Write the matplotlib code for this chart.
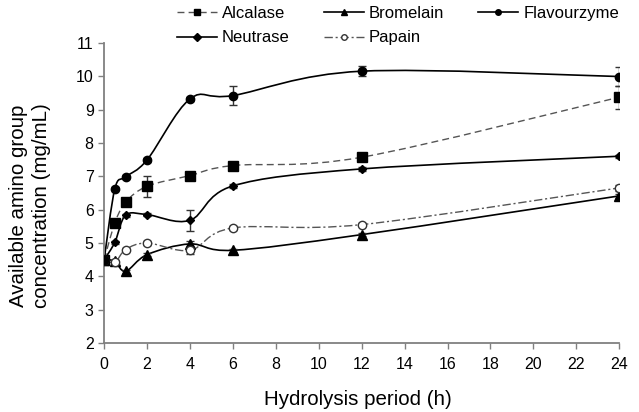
"""Available amino group concentration over hydrolysis time for five enzymes."""

import numpy as np
import matplotlib
matplotlib.use("Agg")
import matplotlib.pyplot as plt
from matplotlib.path import Path
from matplotlib.patches import PathPatch
from matplotlib.lines import Line2D

plt.rcParams["font.family"] = ["Liberation Sans", "DejaVu Sans"]

hours = [0, 0.5, 1, 2, 4, 6, 12, 24]

alcalase = [4.5, 5.6, 6.22, 6.7, 7.02, 7.32, 7.57, 9.37]
alcalase_err = [0.05, 0.05, 0.05, 0.32, 0.05, 0.05, 0.05, 0.35]

bromelain = [4.5, 4.45, 4.15, 4.65, 4.97, 4.78, 5.25, 6.41]
bromelain_err = [0.05, 0.05, 0.05, 0.05, 0.08, 0.05, 0.05, 0.05]

flavourzyme = [4.5, 6.63, 6.98, 7.49, 9.32, 9.42, 10.15, 9.99]
flavourzyme_err = [0.05, 0.05, 0.05, 0.05, 0.05, 0.28, 0.15, 0.28]

neutrase = [4.5, 5.02, 5.83, 5.85, 5.68, 6.71, 7.22, 7.6]
neutrase_err = [0.05, 0.05, 0.05, 0.05, 0.32, 0.05, 0.05, 0.05]

papain = [4.5, 4.42, 4.8, 5.0, 4.78, 5.45, 5.55, 6.65]
papain_err = [0.05, 0.05, 0.05, 0.05, 0.1, 0.05, 0.05, 0.1]


def smooth_path(x, y, tension=1 / 6):
    """Catmull-Rom style bezier through the points, like a spreadsheet 'smoothed line'."""
    x = np.asarray(x, float)
    y = np.asarray(y, float)
    verts = [(x[0], y[0])]
    codes = [Path.MOVETO]
    n = len(x)
    for i in range(n - 1):
        p0 = (x[max(i - 1, 0)], y[max(i - 1, 0)])
        p1 = (x[i], y[i])
        p2 = (x[i + 1], y[i + 1])
        p3 = (x[min(i + 2, n - 1)], y[min(i + 2, n - 1)])
        c1 = (p1[0] + (p2[0] - p0[0]) * tension, p1[1] + (p2[1] - p0[1]) * tension)
        c2 = (p2[0] - (p3[0] - p1[0]) * tension, p2[1] - (p3[1] - p1[1]) * tension)
        verts += [c1, c2, p2]
        codes += [Path.CURVE4] * 3
    return Path(verts, codes)


fig = plt.figure(figsize=(6.39, 4.12), dpi=100)
ax = fig.add_axes([0.163, 0.1675, 0.806, 0.7285])

series = [
    ("Alcalase", alcalase, alcalase_err, dict(color="#555555", ls=(0, (5, 3)), lw=1.0),
     dict(marker="s", ms=6.5, mfc="black", mec="black")),
    ("Neutrase", neutrase, neutrase_err, dict(color="black", ls="-", lw=1.2),
     dict(marker="D", ms=4.5, mfc="black", mec="black")),
    ("Bromelain", bromelain, bromelain_err, dict(color="black", ls="-", lw=1.2),
     dict(marker="^", ms=6.5, mfc="black", mec="black")),
    ("Papain", papain, papain_err, dict(color="#555555", ls=(0, (6, 2, 1.5, 2)), lw=1.0),
     dict(marker="o", ms=6, mfc="white", mec="#333333")),
    ("Flavourzyme", flavourzyme, flavourzyme_err, dict(color="black", ls="-", lw=1.2),
     dict(marker="o", ms=6, mfc="black", mec="black")),
]

handles = []
for name, vals, errs, line_kw, mark_kw in series:
    patch = PathPatch(smooth_path(hours, vals), fill=False, edgecolor=line_kw["color"],
                      linestyle=line_kw["ls"], linewidth=line_kw["lw"], zorder=2)
    ax.add_patch(patch)
    ax.errorbar(hours, vals, yerr=errs, ls="none", ecolor="#333333", elinewidth=1,
                capsize=3, capthick=1, zorder=3, **mark_kw)
    handles.append(Line2D([], [], color=line_kw["color"], ls=line_kw["ls"], lw=line_kw["lw"],
                          marker=mark_kw["marker"], ms=4,
                          mfc=mark_kw["mfc"], mec=mark_kw["mec"]))

ax.set_xlim(0, 24)
ax.set_ylim(2, 11)
ax.set_xticks(range(0, 25, 2))
ax.set_yticks(range(2, 12))
for side in ("top", "right"):
    ax.spines[side].set_visible(False)
for side in ("left", "bottom"):
    ax.spines[side].set_color("#808080")
    ax.spines[side].set_linewidth(1.3)
ax.tick_params(direction="out", length=4, width=1, color="#808080", labelsize=11.5)
ax.tick_params(axis="x", pad=6)

ax.set_xlabel("Hydrolysis period (h)", fontsize=14.8)
ax.xaxis.set_label_coords(0.492, -0.158)
ax.set_ylabel("Available amino group\nconcentration (mg/mL)", fontsize=14.8, linespacing=1.25)
ax.yaxis.set_label_coords(-0.103, 0.457)

fig.legend(handles, [s[0] for s in series], ncol=3, frameon=False, fontsize=12,
           loc="upper left", bbox_to_anchor=(177 / 639, 0.985), borderpad=0,
           borderaxespad=0, handlelength=2.4, columnspacing=2.05,
           handletextpad=0.3, labelspacing=0.55)

fig.savefig("out.png", dpi=100)
